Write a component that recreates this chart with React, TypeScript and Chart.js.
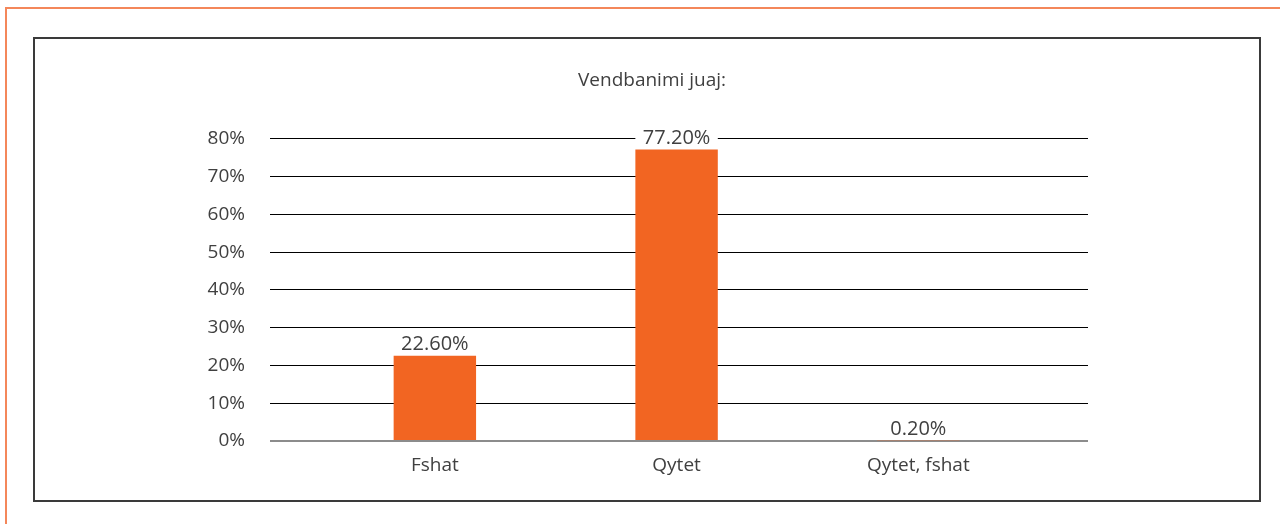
import React, { useEffect, useRef } from 'react';
import { Chart, registerables } from 'chart.js';

Chart.register(...registerables);

const chartTitle = 'Vendbanimi juaj:';
const categories = ['Fshat', 'Qytet', 'Qytet, fshat'];
const values = [22.6, 77.2, 0.2];
const valueLabels = ['22.60%', '77.20%', '0.20%'];
const yTickValues = [0, 10, 20, 30, 40, 50, 60, 70, 80];

const FONT = '"Open Sans", "DejaVu Sans", sans-serif';
const TEXT = '#404040';
const BAR = '#F26522';

const dataLabelPlugin = {
  id: 'dataLabels',
  afterDatasetsDraw(chart: any) {
    const ctx = chart.ctx;
    const meta = chart.getDatasetMeta(0);
    ctx.save();
    ctx.font = `20px ${FONT}`;
    ctx.textAlign = 'center';
    ctx.textBaseline = 'middle';
    meta.data.forEach((bar: any, i: number) => {
      const { x, y, width } = bar.getProps(['x', 'y', 'width'], true);
      ctx.fillStyle = '#ffffff';
      ctx.fillRect(x - width / 2, y - 23, width, 22);
      ctx.fillStyle = TEXT;
      ctx.fillText(valueLabels[i], x, y - 11);
    });
    ctx.restore();
  },
};

export default function App() {
  const canvasRef = useRef<HTMLCanvasElement | null>(null);

  useEffect(() => {
    if (!canvasRef.current) return;
    const chart = new Chart(canvasRef.current, {
      type: 'bar',
      data: {
        datasets: [
          {
            data: values.map((v, i) => ({ x: i, y: v })),
            backgroundColor: BAR,
            borderWidth: 0,
            barPercentage: 0.341,
            categoryPercentage: 1,
          },
        ],
      },
      options: {
        responsive: false,
        animation: false,
        devicePixelRatio: 1,
        layout: { padding: { left: 190, right: 166, top: 60, bottom: 0 } },
        plugins: {
          legend: { display: false },
          tooltip: { enabled: false },
          title: {
            display: true,
            text: chartTitle,
            color: TEXT,
            font: { family: FONT, size: 19, weight: 'normal' },
            padding: { top: 9, bottom: 47 },
          },
        },
        scales: {
          x: {
            type: 'linear',
            min: -0.682,
            max: 2.702,
            offset: false,
            grid: { display: false },
            border: { display: false },
            afterBuildTicks: (s: any) => {
              s.ticks = categories.map((_, i) => ({ value: i }));
            },
            ticks: {
              autoSkip: false,
              maxRotation: 0,
              padding: 5,
              color: TEXT,
              font: { family: FONT, size: 19 },
              callback: (v: any) => categories[v] ?? '',
            },
            afterFit: (s: any) => {
              s.height = 83;
            },
          },
          y: {
            min: 0,
            max: 80,
            afterBuildTicks: (s: any) => {
              s.ticks = yTickValues.map((v) => ({ value: v }));
            },
            grid: {
              drawTicks: false,
              color: (c: any) => (c.tick && c.tick.value === 0 ? '#8c8c8c' : '#000000'),
              lineWidth: (c: any) => (c.tick && c.tick.value === 0 ? 2 : 1),
            },
            border: { display: false },
            ticks: {
              padding: 25,
              color: TEXT,
              font: { family: FONT, size: 19 },
              callback: (v: any) => `${v}%`,
            },
            afterFit: (s: any) => {
              s.width = 80;
            },
          },
          y2: {
            position: 'right',
            display: true,
            min: 0,
            max: 80,
            grid: { display: false },
            border: { display: false },
            ticks: { display: false },
            afterFit: (s: any) => {
              s.width = 26;
            },
          },
        },
      } as any,
      plugins: [dataLabelPlugin],
    });
    return () => chart.destroy();
  }, []);

  return (
    <div
      style={{
        position: 'absolute',
        left: 0,
        top: 0,
        width: 1280,
        height: 524,
        overflow: 'hidden',
        background: '#ffffff',
      }}
    >
      <div
        style={{
          position: 'absolute',
          left: 5,
          top: 7,
          width: 1400,
          height: 700,
          borderTop: '2px solid #F4875A',
          borderLeft: '2px solid #F4875A',
          boxSizing: 'border-box',
        }}
      />
      <div
        style={{
          position: 'absolute',
          left: 33,
          top: 37,
          width: 1228,
          height: 465,
          border: '2px solid #3a3a3a',
          boxSizing: 'border-box',
        }}
      />
      <canvas
        ref={canvasRef}
        width={1280}
        height={524}
        style={{ position: 'absolute', left: 0, top: 0, width: 1280, height: 524 }}
      />
    </div>
  );
}
